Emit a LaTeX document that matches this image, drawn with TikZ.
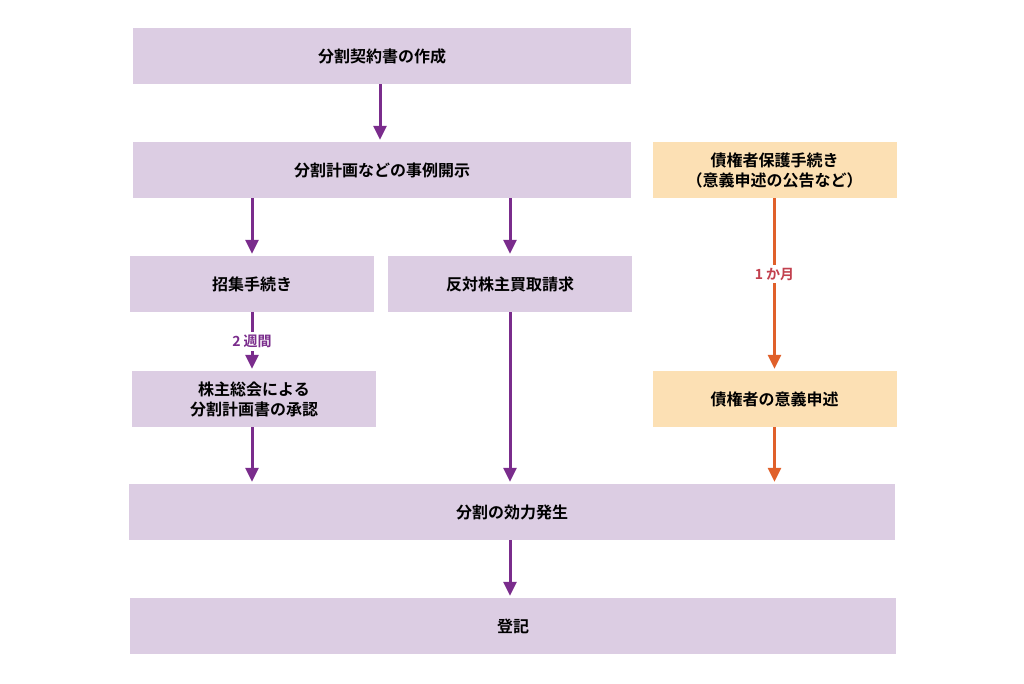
\documentclass[tikz,border=0pt]{standalone}
\usepackage{fontspec}
\newfontfamily\jp{Noto Sans CJK JP}[BoldFont={* Bold}]
\usetikzlibrary{arrows.meta}
\definecolor{lilac}{HTML}{DCCDE3}
\definecolor{peach}{HTML}{FCE0B4}
\definecolor{grape}{HTML}{7A2C8C}
\definecolor{rust}{HTML}{E0602A}
\definecolor{rosered}{HTML}{C2404E}

\begin{document}
\begin{tikzpicture}[x=1pt,y=-1pt,
        step box/.style={fill=lilac, inner sep=0pt, minimum height=56pt, align=center,
            font=\jp\bfseries\fontsize{16}{20}\selectfont},
        long box/.style={step box, minimum width=498pt},
        wide box/.style={step box, minimum width=766pt},
        short box/.style={step box, minimum width=244pt},
        creditor box/.style={short box, fill=peach},
        flow/.style={grape, line width=3pt, shorten >=2pt, -{Triangle[length=14pt,width=13pt]}},
        oflow/.style={flow, rust},
        gap/.style={fill=white, inner sep=3pt, font=\jp\bfseries\fontsize{14}{16}\selectfont}]
        \useasboundingbox (0,0) rectangle (1024,684);
        \node[long box] (contract) at (382,56) {分割契約書の作成};
        \node[long box] (disclose) at (382,170) {分割計画などの事例開示};
        \node[creditor box] (protect) at (774.5,170) {債権者保護手続き\\（意義申述の公告など）};
        \node[short box] (convene) at (252,284) {招集手続き};
        \node[short box] (oppose) at (510,284) {反対株主買取請求};
        \node[short box] (approve) at (254,399) {株主総会による\\分割計画書の承認};
        \node[creditor box] (objection) at (774.5,399) {債権者の意義申述};
        \node[wide box] (effect) at (512,512) {分割の効力発生};
        \node[wide box] (register) at (513,626) {登記};
        \draw[flow] (contract.south -| 380,0) -- (disclose.north -| 380,0);
        \draw[flow] (disclose.south -| convene) -- (convene.north);
        \draw[flow] (disclose.south -| oppose) -- (oppose.north);
        \draw[flow] (convene.south) -- node[gap, text=grape] {2 週間} (approve.north -| convene);
        \draw[flow] (approve.south -| convene) -- (effect.north -| convene);
        \draw[flow] (oppose.south) -- (effect.north -| oppose);
        \draw[oflow] (protect.south) -- node[gap, text=rosered, pos=0.44] {1 か月} (objection.north);
        \draw[oflow] (objection.south) -- (effect.north -| objection);
        \draw[flow] (effect.south -| oppose) -- (register.north -| oppose);
\end{tikzpicture}
\end{document}
